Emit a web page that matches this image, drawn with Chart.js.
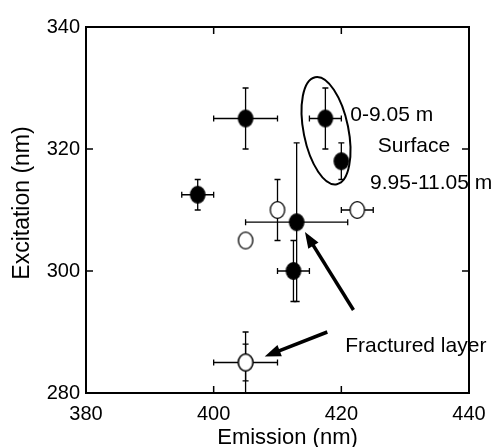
<!DOCTYPE html>
<html>
<head>
<meta charset="utf-8">
<script src="https://cdn.jsdelivr.net/npm/chart.js@4/dist/chart.umd.min.js"></script>
<style>
  body { margin: 0; background: #fff; }
  canvas { display: block; }
</style>
</head>
<body>
<canvas id="chart" width="499" height="447"></canvas>
<script>
// filled circles
const emissionFilled = [405, 397.5, 417.5, 420, 413, 412.5]
const excitationFilled = [325, 312.5, 325, 318, 308, 300]
const xErrFilled = [5, 2.5, 2.5, 0, 8, 2.5]
const yErrFilled = [5, 2.5, 5, 3, 13, 5]
// open circles
const emissionOpen = [410, 422.5, 405, 405, 405]
const excitationOpen = [310, 310, 305, 285, 285]
const xErrOpen = [0, 2.5, 0, 5, 0]
const yErrOpen = [5, 0, 0, 5, 3]

const xTicks = [380, 400, 420, 440]
const yTicks = [280, 300, 320, 340]
const xTitle = 'Emission (nm)'
const yTitle = 'Excitation (nm)'

// notes and arrows, in data units
const notes = [
    {text: '0-9.05 m', x: 421.4, y: 325.6},
    {text: 'Surface', x: 425.7, y: 320.5},
    {text: '9.95-11.05 m', x: 424.5, y: 314.4},
    {text: 'Fractured layer', x: 420.6, y: 287.6}
]
const arrows = [
    {from: [421.9, 293.6], to: [414.3, 306.4]},
    {from: [417.8, 290.0], to: [408.0, 286.0]}
]
const ring = {x: 417.6, y: 323}

const FONT = "'Liberation Sans', Arial, sans-serif"

function makeDot(fill){
    var c = document.createElement('canvas')
    c.width = 18
    c.height = 20
    var ctx = c.getContext('2d')
    ctx.beginPath()
    ctx.ellipse(9, 10, 7.2, 8.3, 0, 0, Math.PI*2)
    ctx.fillStyle = fill
    ctx.fill()
    ctx.lineWidth = 1.3
    ctx.strokeStyle = '#000'
    ctx.stroke()
    return c
}

function toPoints(xs, ys){
    return xs.map((x, i) => ({x: x, y: ys[i]}))
}

const errBars = {
    id: 'errBars',
    beforeDatasetsDraw(chart){
        const ctx = chart.ctx
        const xs = chart.scales.x, ys = chart.scales.y
        const errs = [[xErrFilled, yErrFilled], [xErrOpen, yErrOpen]]
        ctx.save()
        ctx.strokeStyle = '#000'
        ctx.lineWidth = 1.3
        chart.data.datasets.forEach((ds, d) => {
            ds.data.forEach((p, i) => {
                const px = xs.getPixelForValue(p.x), py = ys.getPixelForValue(p.y)
                const ex = errs[d][0][i], ey = errs[d][1][i]
                ctx.beginPath()
                if (ex > 0){
                    const l = xs.getPixelForValue(p.x - ex), r = xs.getPixelForValue(p.x + ex)
                    ctx.moveTo(l, py); ctx.lineTo(r, py)
                    ctx.moveTo(l, py - 3); ctx.lineTo(l, py + 3)
                    ctx.moveTo(r, py - 3); ctx.lineTo(r, py + 3)
                }
                if (ey > 0){
                    const t = ys.getPixelForValue(p.y + ey), b = ys.getPixelForValue(p.y - ey)
                    ctx.moveTo(px, t); ctx.lineTo(px, b)
                    ctx.moveTo(px - 3, t); ctx.lineTo(px + 3, t)
                    ctx.moveTo(px - 3, b); ctx.lineTo(px + 3, b)
                }
                ctx.stroke()
            })
        })
        ctx.restore()
    }
}

const extras = {
    id: 'extras',
    afterDatasetsDraw(chart){
        const ctx = chart.ctx
        const xs = chart.scales.x, ys = chart.scales.y
        const a = chart.chartArea
        ctx.save()
        ctx.fillStyle = '#000'
        ctx.strokeStyle = '#000'

        // ellipse round the surface points
        ctx.lineWidth = 2
        ctx.beginPath()
        ctx.ellipse(xs.getPixelForValue(ring.x), ys.getPixelForValue(ring.y), 22.4, 54.6, -0.2, 0, Math.PI*2)
        ctx.stroke()

        // arrows
        arrows.forEach(ar => {
            const x0 = xs.getPixelForValue(ar.from[0]), y0 = ys.getPixelForValue(ar.from[1])
            const x1 = xs.getPixelForValue(ar.to[0]), y1 = ys.getPixelForValue(ar.to[1])
            const ang = Math.atan2(y1 - y0, x1 - x0)
            const hl = 16, hw = 6
            const bx = x1 - hl*Math.cos(ang), by = y1 - hl*Math.sin(ang)
            ctx.lineWidth = 3.5
            ctx.beginPath()
            ctx.moveTo(x0, y0); ctx.lineTo(bx + 2*Math.cos(ang), by + 2*Math.sin(ang))
            ctx.stroke()
            ctx.beginPath()
            ctx.moveTo(x1, y1)
            ctx.lineTo(bx + hw*Math.sin(ang), by - hw*Math.cos(ang))
            ctx.lineTo(bx - hw*Math.sin(ang), by + hw*Math.cos(ang))
            ctx.closePath()
            ctx.fill()
        })

        // notes
        ctx.font = '21px ' + FONT
        ctx.textAlign = 'left'
        ctx.textBaseline = 'middle'
        notes.forEach(n => {
            ctx.fillText(n.text, xs.getPixelForValue(n.x), ys.getPixelForValue(n.y))
        })

        // frame with inward ticks
        ctx.lineWidth = 2
        ctx.strokeRect(a.left, a.top, a.right - a.left, a.bottom - a.top)
        ctx.lineWidth = 1.5
        ctx.beginPath()
        xTicks.slice(1, -1).forEach(v => {
            const px = xs.getPixelForValue(v)
            ctx.moveTo(px, a.bottom); ctx.lineTo(px, a.bottom - 7)
            ctx.moveTo(px, a.top); ctx.lineTo(px, a.top + 7)
        })
        yTicks.slice(1, -1).forEach(v => {
            const py = ys.getPixelForValue(v)
            ctx.moveTo(a.left, py); ctx.lineTo(a.left + 7, py)
            ctx.moveTo(a.right, py); ctx.lineTo(a.right - 7, py)
        })
        ctx.stroke()

        // axis titles
        ctx.font = '22px ' + FONT
        ctx.textAlign = 'center'
        ctx.textBaseline = 'middle'
        ctx.fillText(xTitle, (a.left + a.right)/2 + 10, 438)
        ctx.translate(23, (a.top + a.bottom)/2 - 7)
        ctx.rotate(-Math.PI/2)
        ctx.font = '23px ' + FONT
        ctx.fillText(yTitle, 0, 0)
        ctx.restore()
    }
}

new Chart(document.getElementById('chart'), {
    type: 'scatter',
    data: {
        datasets: [
            {
                label: 'filled',
                data: toPoints(emissionFilled, excitationFilled),
                pointStyle: makeDot('#000'),
                pointRadius: 8
            },
            {
                label: 'open',
                data: toPoints(emissionOpen, excitationOpen),
                pointStyle: makeDot('#fff'),
                pointRadius: 8
            }
        ]
    },
    options: {
        responsive: false,
        animation: false,
        layout: {padding: {top: 27, right: 30, left: 0, bottom: 0}},
        plugins: {legend: {display: false}, tooltip: {enabled: false}},
        scales: {
            x: {
                type: 'linear',
                min: xTicks[0],
                max: xTicks[xTicks.length - 1],
                afterBuildTicks(s){ s.ticks = xTicks.map(v => ({value: v})) },
                afterFit(s){ s.height = 54 },
                grid: {display: false, drawTicks: false},
                border: {display: false},
                ticks: {color: '#000', padding: 9, font: {family: FONT, size: 20}}
            },
            y: {
                type: 'linear',
                min: yTicks[0],
                max: yTicks[yTicks.length - 1],
                afterBuildTicks(s){ s.ticks = yTicks.map(v => ({value: v})) },
                afterFit(s){ s.width = 86 },
                grid: {display: false, drawTicks: false},
                border: {display: false},
                ticks: {color: '#000', padding: 6, font: {family: FONT, size: 20}}
            }
        }
    },
    plugins: [errBars, extras]
})
</script>
</body>
</html>
